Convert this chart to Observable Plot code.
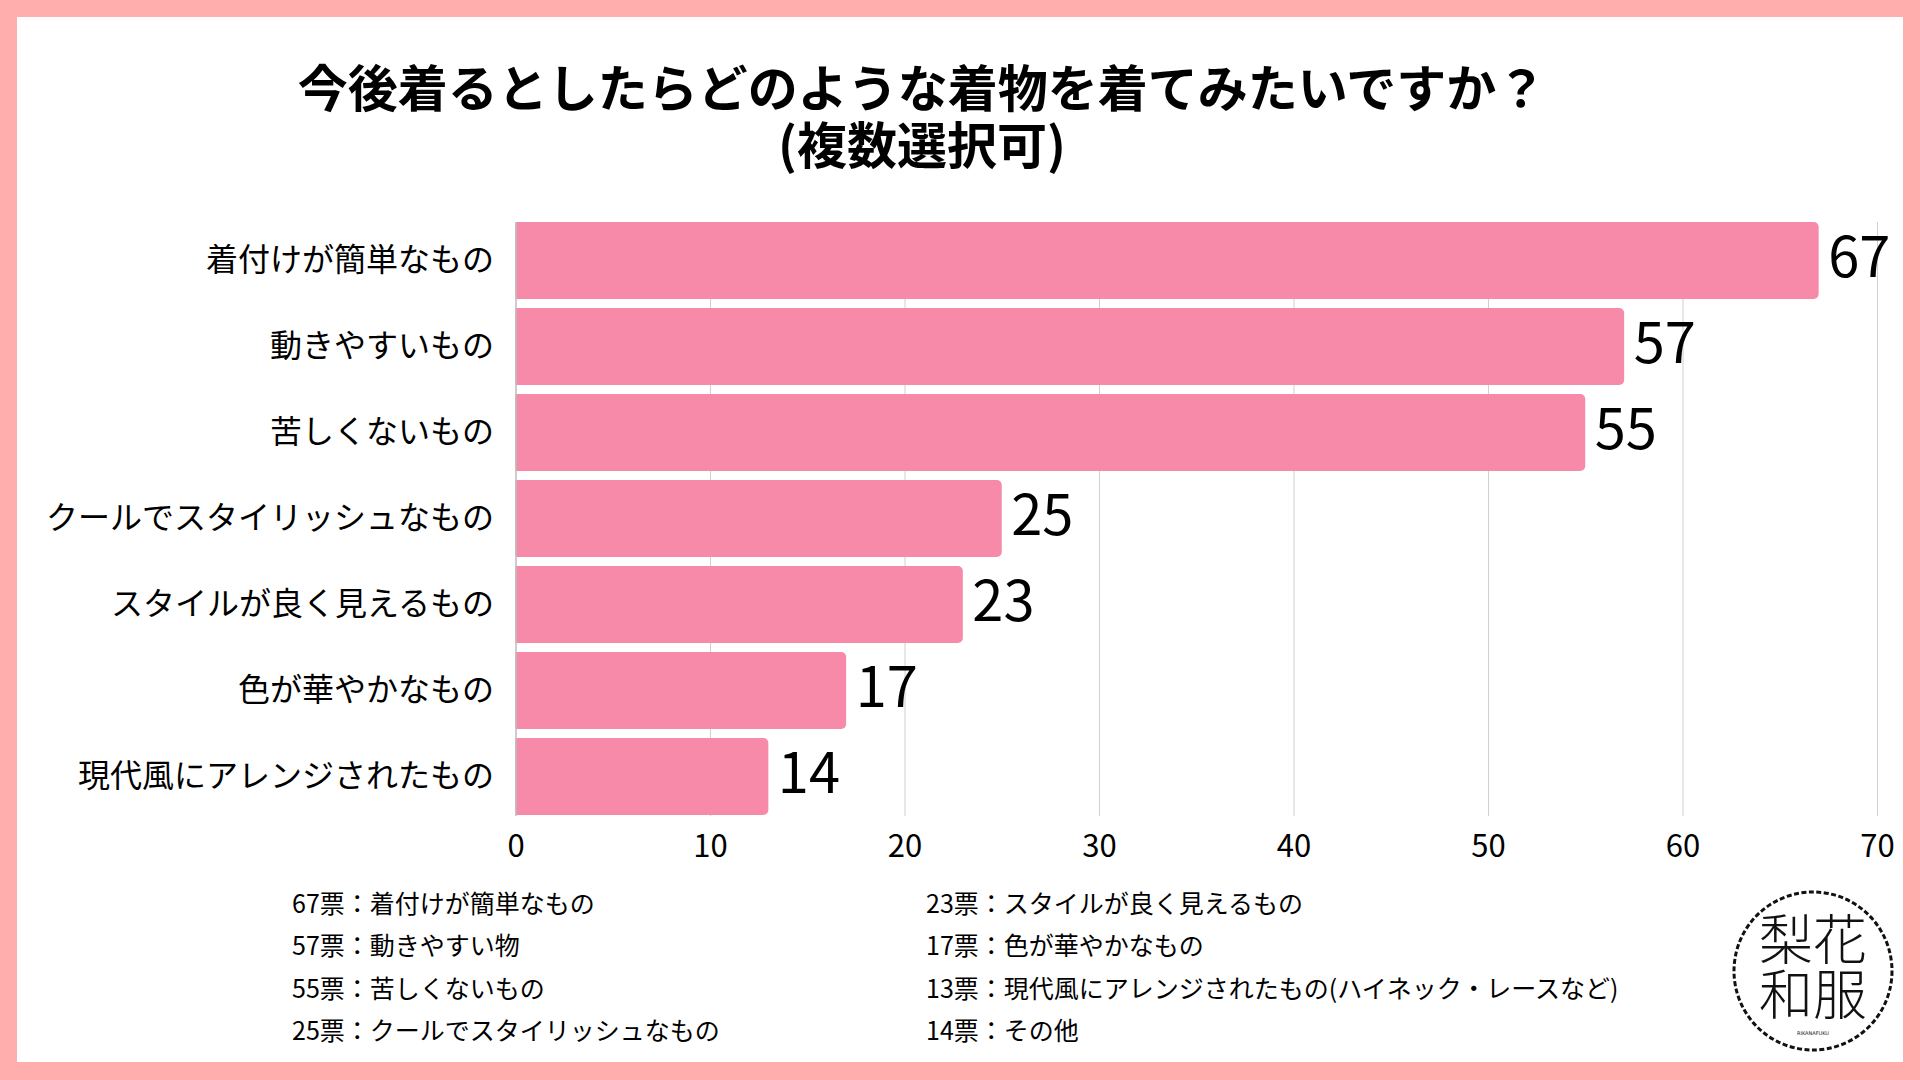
<!DOCTYPE html>
<html lang="ja">
<head>
<meta charset="utf-8">
<script src="https://cdn.jsdelivr.net/npm/d3@7"></script>
<script src="https://cdn.jsdelivr.net/npm/@observablehq/plot@0.6"></script>
<style>
  html, body { margin: 0; padding: 0; background: #fff; }
  #frame { position: relative; width: 1920px; height: 1080px; background: #FFADAD; overflow: hidden;
           font-family: "Noto Sans CJK JP", "Noto Sans", sans-serif; color: #000; }
  #inner { position: absolute; left: 17px; top: 17px; width: 1886px; height: 1045px; background: #fff; }
  .title { position: absolute; left: 922px; transform: translateX(-50%); width: max-content;
           font-size: 50px; font-weight: 700; line-height: 50px; white-space: nowrap; }
  #chart { position: absolute; left: 0; top: 0; }
  .notes { position: absolute; top: 881px; font-size: 25px; line-height: 42.3px; white-space: nowrap; width: max-content; }
  .notes div { width: max-content; }
  #logo { position: absolute; left: 1730px; top: 888px; }
</style>
</head>
<body>
<div id="frame">
  <div id="inner"></div>
  <div class="title" id="title1" style="top:60px">今後着るとしたらどのような着物を着てみたいですか？</div>
  <div class="title" id="title2" style="top:117px">(複数選択可)</div>
  <div id="chart"></div>
  <div class="notes" id="notesLeft" style="left:292px"></div>
  <div class="notes" id="notesRight" style="left:926px"></div>
  <svg id="logo" width="166" height="166" viewBox="0 0 166 166">
    <circle cx="83" cy="83" r="79" fill="#fff" stroke="#111" stroke-width="3" stroke-dasharray="5 2.5"></circle>
    <text x="83" y="72" text-anchor="middle" font-family="Noto Sans CJK JP" font-weight="300" font-size="54" fill="#111">梨花</text>
    <text x="83" y="127" text-anchor="middle" font-family="Noto Sans CJK JP" font-weight="300" font-size="54" fill="#111">和服</text>
    <text x="83" y="147" text-anchor="middle" font-family="DejaVu Sans" font-size="5" fill="#111">RIKANAFUKU</text>
  </svg>
</div>
<script>
const categories = [
  "着付けが簡単なもの",
  "動きやすいもの",
  "苦しくないもの",
  "クールでスタイリッシュなもの",
  "スタイルが良く見えるもの",
  "色が華やかなもの",
  "現代風にアレンジされたもの"
];
const barValues = [67, 57, 55, 25, 23, 17, 13];
const valueLabels = ["67", "57", "55", "25", "23", "17", "14"];
const xTicks = [0, 10, 20, 30, 40, 50, 60, 70];
const notesLeft = [
  "67票：着付けが簡単なもの",
  "57票：動きやすい物",
  "55票：苦しくないもの",
  "25票：クールでスタイリッシュなもの"
];
const notesRight = [
  "23票：スタイルが良く見えるもの",
  "17票：色が華やかなもの",
  "13票：現代風にアレンジされたもの(ハイネック・レースなど)",
  "14票：その他"
];

const data = categories.map((c, i) => ({category: c, value: barValues[i], label: valueLabels[i]}));
const barColor = "#F78AA8";

const chart = Plot.plot({
  width: 1920,
  height: 1080,
  marginTop: 222,
  marginBottom: 264,
  marginLeft: 515.5,
  marginRight: 43,
  x: {domain: [0, 70], label: null},
  y: {domain: categories, paddingInner: 0.1, paddingOuter: 0, label: null},
  style: {fontFamily: "'Noto Sans CJK JP', 'Noto Sans', sans-serif", background: "transparent", color: "#000", overflow: "visible"},
  marks: [
    Plot.gridX(xTicks.filter(t => t > 0), {stroke: "#d0d0d0", strokeOpacity: 1, strokeWidth: 1}),
    Plot.barX(data, {x: "value", y: "category", fill: barColor, rx: 5}),
    Plot.barX(data, {x1: 0, x2: d => d.value / 2, y: "category", fill: barColor}),
    Plot.ruleX([0], {stroke: "#bdbdbd", strokeWidth: 1.5}),
    Plot.text(data, {x: "value", y: "category", text: "label", textAnchor: "start", dx: 9, dy: -2, fontSize: 56, fill: "#000"}),
    Plot.axisX(xTicks, {tickSize: 0, tickPadding: 18, fontSize: 31, label: null, fill: "#000"}),
    Plot.axisY({tickSize: 0, tickPadding: 22, fontSize: 32, label: null, fill: "#000"})
  ]
});
document.getElementById("chart").appendChild(chart);

document.getElementById("notesLeft").innerHTML = notesLeft.map(t => `<div>${t}</div>`).join("");
document.getElementById("notesRight").innerHTML = notesRight.map(t => `<div>${t}</div>`).join("");
</script>
</body>
</html>
